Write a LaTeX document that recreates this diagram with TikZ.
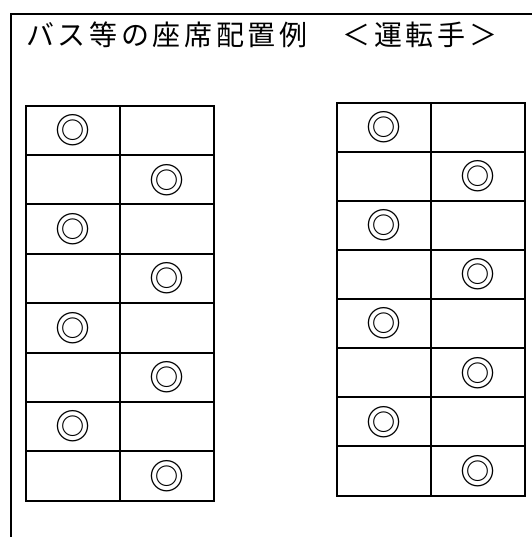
\documentclass[tikz,border=0pt]{standalone}
\usepackage{fontspec}
\newfontfamily\jpfont{Noto Sans CJK JP}
\newfontfamily\jptitlefont[LetterSpace=13]{Noto Sans CJK JP}
\begin{document}
\begin{tikzpicture}[x=1pt,y=-1pt,
  frameline/.style={line width=1.8pt, line cap=rect},
  cellL/.style={draw, line width=2pt, minimum width=94pt, minimum height=49.4pt, inner sep=0pt, anchor=center,
    font=\jpfont\fontsize{35}{35}\selectfont},
  cellR/.style={cellL, minimum width=93.7pt, minimum height=49.1pt},
  title/.style={inner sep=0pt, anchor=base west, font=\jptitlefont\fontsize{28}{28}\selectfont}
]
\useasboundingbox (0,0) rectangle (531,537);
% frame
\coordinate (fTR) at (531,14);
\coordinate (fTL) at (11,14);
\coordinate (fBL) at (11,537);
\draw[frameline] (fTR) -- (fTL) -- (fBL);
% title
\node[title] (ttl) at (26,45.5) {バス等の座席配置例　＜運転手＞};
% left table
\foreach \r in {0,...,7}{
  \pgfmathsetmacro{\yy}{105.7+49.375*(\r+0.5)}
  \pgfmathtruncatemacro{\odd}{mod(\r,2)}
  \ifnum\odd=0
    \node[cellL] (L-\r-1) at (72.6,\yy) {◎};
    \node[cellL] (L-\r-2) at (167,\yy) {};
  \else
    \node[cellL] (L-\r-1) at (72.6,\yy) {};
    \node[cellL] (L-\r-2) at (167,\yy) {◎};
  \fi
}
% right table
\foreach \r in {0,...,7}{
  \pgfmathsetmacro{\yy}{102.7+49.1*(\r+0.5)}
  \pgfmathtruncatemacro{\odd}{mod(\r,2)}
  \ifnum\odd=0
    \node[cellR] (R-\r-1) at (384,\yy) {◎};
    \node[cellR] (R-\r-2) at (477.7,\yy) {};
  \else
    \node[cellR] (R-\r-1) at (384,\yy) {};
    \node[cellR] (R-\r-2) at (477.7,\yy) {◎};
  \fi
}
\end{tikzpicture}
\end{document}
